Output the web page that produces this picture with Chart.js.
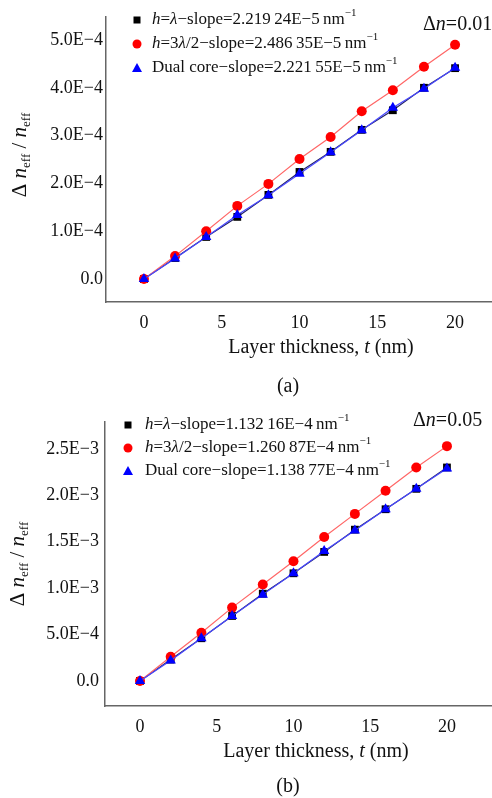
<!DOCTYPE html>
<html>
<head>
<meta charset="utf-8">
<script src="https://cdn.jsdelivr.net/npm/chart.js@4/dist/chart.umd.min.js"></script>
<style>
body { margin: 0; background: #fff; width: 492px; height: 798px; position: relative; overflow: hidden; }
canvas { position: absolute; left: 0; }
.cap { position: absolute; font: 20px 'Liberation Serif', serif; color: #111; transform: translate(-50%, -50%); }
</style>
</head>
<body>
<canvas id="chartA" width="492" height="400" style="top:0"></canvas>
<canvas id="chartB" width="492" height="398" style="top:400px"></canvas>
<div class="cap" style="left:288px;top:385px">(a)</div>
<div class="cap" style="left:288px;top:785px">(b)</div>
<script>
// layer thickness t (nm), same for both panels
var thickness = [0, 2, 4, 6, 8, 10, 12, 14, 16, 18, 20];
var xTicks = [0, 5, 10, 15, 20];

// (a) delta n = 0.01
var aLambda = [0, 0.44e-4, 0.88e-4, 1.30e-4, 1.76e-4, 2.24e-4, 2.66e-4, 3.12e-4, 3.53e-4, 4.00e-4, 4.41e-4];
var aThreeHalf = [0, 0.48e-4, 1.00e-4, 1.53e-4, 1.99e-4, 2.51e-4, 2.97e-4, 3.51e-4, 3.95e-4, 4.44e-4, 4.90e-4];
var aDual = [0, 0.43e-4, 0.88e-4, 1.34e-4, 1.75e-4, 2.20e-4, 2.65e-4, 3.11e-4, 3.58e-4, 3.98e-4, 4.42e-4];
var aYTicks = [0, 1e-4, 2e-4, 3e-4, 4e-4, 5e-4];
var aYLabels = ['0.0', '1.0E\u22124', '2.0E\u22124', '3.0E\u22124', '4.0E\u22124', '5.0E\u22124'];
var aSlopes = ['2.219\u200924E\u22125', '2.486\u200935E\u22125', '2.221\u200955E\u22125'];

// (b) delta n = 0.05
var bLambda = [0, 0.23e-3, 0.46e-3, 0.70e-3, 0.94e-3, 1.16e-3, 1.39e-3, 1.63e-3, 1.85e-3, 2.07e-3, 2.30e-3];
var bThreeHalf = [0, 0.26e-3, 0.52e-3, 0.79e-3, 1.04e-3, 1.29e-3, 1.55e-3, 1.80e-3, 2.05e-3, 2.30e-3, 2.53e-3];
var bDual = [0, 0.22e-3, 0.46e-3, 0.70e-3, 0.93e-3, 1.16e-3, 1.40e-3, 1.62e-3, 1.85e-3, 2.07e-3, 2.29e-3];
var bYTicks = [0, 5e-4, 1e-3, 1.5e-3, 2e-3, 2.5e-3];
var bYLabels = ['0.0', '5.0E\u22124', '1.0E\u22123', '1.5E\u22123', '2.0E\u22123', '2.5E\u22123'];
var bSlopes = ['1.132\u200916E\u22124', '1.260\u200987E\u22124', '1.138\u200977E\u22124'];

var SERIF = "'Liberation Serif', serif";

function segFont(s, size) {
    var sz = (s.sub || s.sup) ? Math.round(size * 0.62) : size;
    return (s.i ? 'italic ' : '') + sz + 'px ' + SERIF;
}

// draw a run of text pieces (italic / sub / sup) starting at x, or centred on x
function drawRich(ctx, segs, x, y, size, centre) {
    ctx.save();
    ctx.textBaseline = 'middle';
    ctx.textAlign = 'left';
    var w = 0;
    segs.forEach(function (s) { ctx.font = segFont(s, size); w += ctx.measureText(s.t).width; });
    var cx = centre ? x - w / 2 : x;
    segs.forEach(function (s) {
        ctx.font = segFont(s, size);
        var dy = s.sub ? size * 0.32 : (s.sup ? -size * 0.42 : 0);
        ctx.fillText(s.t, cx, y + dy);
        cx += ctx.measureText(s.t).width;
    });
    ctx.restore();
}

function drawMarker(ctx, kind, x, y) {
    ctx.save();
    ctx.beginPath();
    if (kind === 'rect') {
        ctx.fillStyle = '#000';
        ctx.fillRect(x - 3.5, y - 3.5, 7, 7);
    } else if (kind === 'circle') {
        ctx.fillStyle = '#ff0000';
        ctx.arc(x, y, 4.5, 0, Math.PI * 2);
        ctx.fill();
    } else {
        ctx.fillStyle = '#0000ff';
        ctx.moveTo(x, y - 5);
        ctx.lineTo(x + 5, y + 4);
        ctx.lineTo(x - 5, y + 4);
        ctx.closePath();
        ctx.fill();
    }
    ctx.restore();
}

function makeChart(id, p) {
    var ctx = document.getElementById(id).getContext('2d');
    var h = ctx.canvas.height;

    var overlay = {
        id: 'overlay',
        afterDraw: function (chart) {
            var c = chart.ctx;
            c.fillStyle = '#111';
            var rows = [
                [{ t: 'h', i: true }, { t: '=' }, { t: '\u03bb', i: true }, { t: '\u2212slope=' + p.slopes[0] + '\u2009nm' }, { t: '\u22121', sup: true }],
                [{ t: 'h', i: true }, { t: '=3' }, { t: '\u03bb', i: true }, { t: '/2\u2212slope=' + p.slopes[1] + '\u2009nm' }, { t: '\u22121', sup: true }],
                [{ t: 'Dual core\u2212slope=' + p.slopes[2] + '\u2009nm' }, { t: '\u22121', sup: true }]
            ];
            var kinds = ['rect', 'circle', 'triangle'];
            rows.forEach(function (r, k) {
                var y = p.legendY + k * p.legendGap;
                drawMarker(c, kinds[k], p.markerX, y);
                c.fillStyle = '#111';
                drawRich(c, r, p.textX, y, 17, false);
            });
            drawRich(c, [{ t: '\u0394' }, { t: 'n', i: true }, { t: '=' + p.dn }], p.dnX, p.dnY, 20, false);
            // y axis title, rotated
            c.save();
            c.translate(p.yTitleX, p.yTitleY);
            c.rotate(-Math.PI / 2);
            drawRich(c, [{ t: '\u0394 ' }, { t: 'n', i: true }, { t: 'eff', sub: true }, { t: ' / ' }, { t: 'n', i: true }, { t: 'eff', sub: true }], 0, 0, 21, true);
            c.restore();
            drawRich(c, [{ t: 'Layer thickness, ' }, { t: 't', i: true }, { t: ' (nm)' }], p.xTitleX, p.xTitleY, 20, true);
        }
    };

    return new Chart(ctx, {
        type: 'line',
        data: {
            datasets: [
                {
                    label: 'Dual core',
                    data: thickness.map(function (t, k) { return { x: t, y: p.dual[k] }; }),
                    borderColor: '#4848ff',
                    backgroundColor: '#0000ff',
                    borderWidth: 1.2,
                    pointStyle: 'triangle',
                    pointRadius: 6,
                    pointBorderWidth: 0
                },
                {
                    label: 'h=3λ/2',
                    data: thickness.map(function (t, k) { return { x: t, y: p.threeHalf[k] }; }),
                    borderColor: '#ff6666',
                    backgroundColor: '#ff0000',
                    borderWidth: 1.2,
                    pointStyle: 'circle',
                    pointRadius: 5,
                    pointBorderWidth: 0
                },
                {
                    label: 'h=λ',
                    data: thickness.map(function (t, k) { return { x: t, y: p.lambda[k] }; }),
                    borderColor: '#222266',
                    backgroundColor: '#000000',
                    borderWidth: 1.2,
                    pointStyle: 'rect',
                    pointRadius: 5.5,
                    pointBorderWidth: 0
                }
            ]
        },
        options: {
            responsive: false,
            animation: false,
            layout: { autoPadding: false, padding: { top: p.top, right: 1, left: 0, bottom: 0 } },
            plugins: { legend: { display: false }, tooltip: { enabled: false } },
            scales: {
                x: {
                    type: 'linear',
                    min: p.xMin,
                    max: p.xMax,
                    grid: { display: false, drawTicks: false },
                    border: { display: true, color: '#666', width: 1.5 },
                    afterBuildTicks: function (s) { s.ticks = xTicks.map(function (v) { return { value: v }; }); },
                    afterFit: function (s) { s.height = h - p.bottom; s.paddingLeft = 0; s.paddingRight = 0; },
                    ticks: {
                        padding: 10,
                        maxRotation: 0,
                        color: '#111',
                        font: { family: SERIF, size: 18 },
                        callback: function (v) { return String(v); }
                    }
                },
                y: {
                    min: p.yMin,
                    max: p.yMax,
                    grid: { display: false, drawTicks: false },
                    border: { display: true, color: '#666', width: 1.5 },
                    afterBuildTicks: function (s) { s.ticks = p.yTicks.map(function (v) { return { value: v }; }); },
                    afterFit: function (s) { s.width = p.left; s.paddingTop = 0; s.paddingBottom = 0; },
                    ticks: {
                        padding: p.yPad,
                        color: '#111',
                        font: { family: SERIF, size: 18 },
                        callback: function (v) { return p.yLabels[p.yTicks.indexOf(v)]; }
                    }
                }
            }
        },
        plugins: [overlay]
    });
}

document.addEventListener('DOMContentLoaded', function () {
    makeChart('chartA', {
        lambda: aLambda, threeHalf: aThreeHalf, dual: aDual,
        yTicks: aYTicks, yLabels: aYLabels, slopes: aSlopes, dn: '0.01',
        top: 17, bottom: 302, left: 106, yPad: 3,
        xMin: -2.44, xMax: 22.31, yMin: -0.48e-4, yMax: 5.48e-4,
        markerX: 137, textX: 152, legendY: 20, legendGap: 24,
        dnX: 423, dnY: 25, yTitleX: 20, yTitleY: 155, xTitleX: 321, xTitleY: 348
    });
    makeChart('chartB', {
        lambda: bLambda, threeHalf: bThreeHalf, dual: bDual,
        yTicks: bYTicks, yLabels: bYLabels, slopes: bSlopes, dn: '0.05',
        top: 22, bottom: 306, left: 105, yPad: 6,
        xMin: -2.28, xMax: 22.87, yMin: -0.27e-3, yMax: 2.79e-3,
        markerX: 128, textX: 145, legendY: 25, legendGap: 23,
        dnX: 413, dnY: 21, yTitleX: 18, yTitleY: 164, xTitleX: 316, xTitleY: 352
    });
});
</script>
</body>
</html>
